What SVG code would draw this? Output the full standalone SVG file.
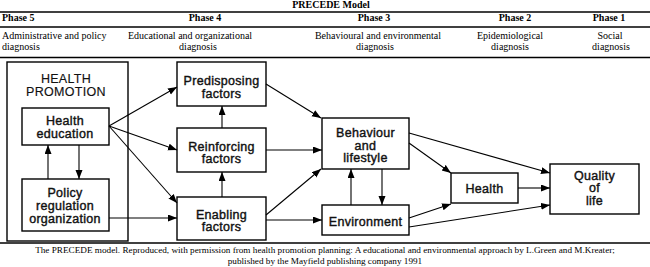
<svg xmlns="http://www.w3.org/2000/svg" width="650" height="267" viewBox="0 0 650 267">
<style>
.hd{font-family:"Liberation Serif",serif;font-size:10px;fill:#000}
.b{font-weight:bold}
.cap{font-family:"Liberation Serif",serif;font-size:9.2px;fill:#000}
.box{fill:#fff;stroke:#000;stroke-width:1.4}
.t{font-family:"Liberation Sans",Arial,sans-serif;font-size:12.5px;letter-spacing:0.3px;fill:#111;stroke:#111;stroke-width:0.4;text-anchor:middle}
.rule{stroke:#000;stroke-width:1.3}
.c{stroke:#000;stroke-width:1.1;fill:none;marker-end:url(#ah)}
</style>
<defs>
<marker id="ah" markerUnits="userSpaceOnUse" markerWidth="10" markerHeight="8" refX="9" refY="3.5" orient="auto">
<path d="M0,0 L9,3.5 L0,7 z" fill="#000"/>
</marker>
</defs>
<rect width="650" height="267" fill="#fff"/>
<g id="header">
<text class="hd b" x="331" y="8" text-anchor="middle">PRECEDE Model</text>
<line class="rule" x1="0" y1="12" x2="650" y2="12"/>
<text class="hd b" x="2" y="21">Phase 5</text>
<text class="hd b" x="205" y="21" text-anchor="middle">Phase 4</text>
<text class="hd b" x="374" y="21" text-anchor="middle">Phase 3</text>
<text class="hd b" x="515" y="21" text-anchor="middle">Phase 2</text>
<text class="hd b" x="609" y="21" text-anchor="middle">Phase 1</text>
<line class="rule" x1="0" y1="27" x2="650" y2="27"/>
<text class="hd" x="2" y="39">Administrative and policy</text>
<text class="hd" x="2" y="50">diagnosis</text>
<text class="hd" x="190" y="39" text-anchor="middle">Educational and organizational</text>
<text class="hd" x="198" y="50" text-anchor="middle">diagnosis</text>
<text class="hd" x="378" y="39" text-anchor="middle">Behavioural and environmental</text>
<text class="hd" x="375" y="50" text-anchor="middle">diagnosis</text>
<text class="hd" x="510" y="39" text-anchor="middle">Epidemiological</text>
<text class="hd" x="510" y="50" text-anchor="middle">diagnosis</text>
<text class="hd" x="610" y="39" text-anchor="middle">Social</text>
<text class="hd" x="611" y="50" text-anchor="middle">diagnosis</text>
<line class="rule" x1="0" y1="57.5" x2="650" y2="57.5"/>
<line class="rule" x1="0" y1="243" x2="650" y2="243"/>
</g>
<g id="health-promotion">
<rect class="box" x="7" y="62" width="121" height="179"/>
<text class="t" x="66" y="83" style="stroke-width:0.15">HEALTH</text>
<text class="t" x="66" y="95.5" style="stroke-width:0.15">PROMOTION</text>
</g>
<g id="health-education">
<rect class="box" x="22" y="108" width="87" height="37"/>
<text class="t" x="65" y="125">Health</text>
<text class="t" x="65" y="137.5">education</text>
</g>
<g id="policy">
<rect class="box" x="22" y="179" width="87" height="52"/>
<text class="t" x="65" y="196.5">Policy</text>
<text class="t" x="65" y="209.5">regulation</text>
<text class="t" x="65" y="222.5">organization</text>
</g>
<g id="predisposing">
<rect class="box" x="177" y="62" width="89" height="44"/>
<text class="t" x="221.5" y="85">Predisposing</text>
<text class="t" x="221.5" y="97.5">factors</text>
</g>
<g id="reinforcing">
<rect class="box" x="177" y="128" width="89" height="44"/>
<text class="t" x="221.5" y="150.5">Reinforcing</text>
<text class="t" x="221.5" y="163">factors</text>
</g>
<g id="enabling">
<rect class="box" x="177" y="197" width="89" height="43"/>
<text class="t" x="221.5" y="218.5">Enabling</text>
<text class="t" x="221.5" y="231">factors</text>
</g>
<g id="behaviour">
<rect class="box" x="322" y="118" width="87" height="51"/>
<text class="t" x="365.5" y="137">Behaviour</text>
<text class="t" x="365.5" y="149.5">and</text>
<text class="t" x="365.5" y="162">lifestyle</text>
</g>
<g id="environment">
<rect class="box" x="322" y="205" width="87" height="30"/>
<text class="t" x="365.5" y="225.5">Environment</text>
</g>
<g id="health">
<rect class="box" x="451" y="173" width="67" height="30"/>
<text class="t" x="484.5" y="192.5">Health</text>
</g>
<g id="quality">
<rect class="box" x="550" y="164" width="89" height="50"/>
<text class="t" x="594.5" y="179.5">Quality</text>
<text class="t" x="594.5" y="192">of</text>
<text class="t" x="594.5" y="204.5">life</text>
</g>
<g id="connectors">
<path class="c" d="M109,126 L177,87"/>
<path class="c" d="M109,126 L177,150"/>
<path class="c" d="M109,126 L177,203"/>
<path class="c" d="M79,145 L79,179"/>
<path class="c" d="M48,179 L48,145"/>
<path class="c" d="M109,218 L177,218"/>
<path class="c" d="M222,128 L222,106"/>
<path class="c" d="M222,197 L222,172"/>
<path class="c" d="M266,84 L321,118"/>
<path class="c" d="M266,150 L322,150"/>
<path class="c" d="M266,215 L321,169"/>
<path class="c" d="M266,220 L322,220"/>
<path class="c" d="M351,205 L351,169"/>
<path class="c" d="M382,169 L382,205"/>
<path class="c" d="M409,133 L550,173"/>
<path class="c" d="M409,143 L451,173"/>
<path class="c" d="M518,188 L550,188"/>
<path class="c" d="M409,218 L451,204"/>
<path class="c" d="M409,227 L550,205"/>
</g>
<g id="caption">
<text class="cap" x="325" y="253" text-anchor="middle">The PRECEDE model. Reproduced, with permission from health promotion planning: A educational and environmental approach by L.Green and M.Kreater;</text>
<text class="cap" x="325" y="264" text-anchor="middle">published by the Mayfield publishing company 1991</text>
</g>
</svg>
